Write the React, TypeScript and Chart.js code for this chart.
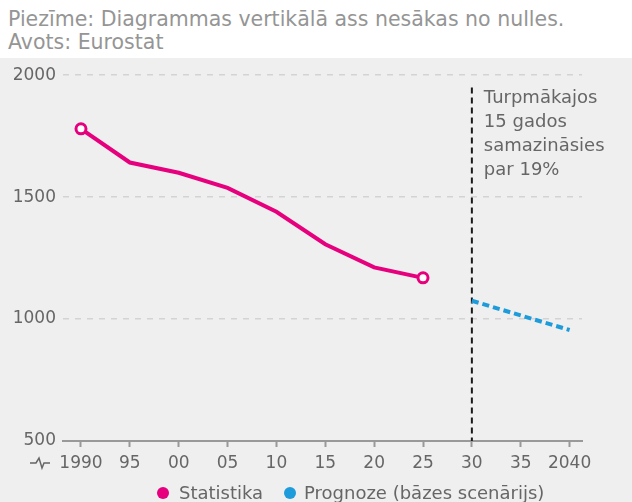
import React, { useEffect, useRef } from 'react';
import { Chart, registerables } from 'chart.js';

Chart.register(...registerables);

// ---- data ----
const STAT_YEARS = [1990, 1995, 2000, 2005, 2010, 2015, 2020, 2025];
const STAT_VALUES = [1780, 1642, 1600, 1538, 1440, 1307, 1212, 1169];
const PROG_YEARS = [2030, 2035, 2040];
const PROG_VALUES = [1075, 1015, 955];
const TICK_YEARS = [1990, 1995, 2000, 2005, 2010, 2015, 2020, 2025, 2030, 2035, 2040];
const TICK_LABELS = ['1990', '95', '00', '05', '10', '15', '20', '25', '30', '35', '2040'];
const Y_TICKS = [500, 1000, 1500, 2000];
const SERIES_NAMES = ['Statistika', 'Prognoze (bāzes scenārijs)'];
const NOTE_LINES = ['Piezīme: Diagrammas vertikālā ass nesākas no nulles.', 'Avots: Eurostat'];
const ANNOTATION_LINES = ['Turpmākajos', '15 gados', 'samazināsies', 'par 19%'];
const MARKER_YEAR = 2030;
const MARKER_TOP = 1950;

const X_MIN = 1988.16;
const X_MAX = 2041.27;
const Y_MIN = 500;
const Y_MAX = 2000;

const PINK = '#e6007e';
const BLUE = '#1d9bdb';
const BG = '#eeefee';
const FONT = "'DejaVu Sans', sans-serif";

export default function App() {
  const canvasRef = useRef<HTMLCanvasElement>(null);

  useEffect(() => {
    document.body.style.margin = '0';
    const canvas = canvasRef.current;
    if (!canvas) return;

    const overlay = {
      id: 'overlay',
      beforeDatasetsDraw(chart: any) {
        const { ctx, scales } = chart;
        const x = scales.x.getPixelForValue(MARKER_YEAR);
        const y1 = scales.y.getPixelForValue(MARKER_TOP);
        const y2 = scales.y.getPixelForValue(Y_MIN);
        ctx.save();
        ctx.strokeStyle = '#1a1a1a';
        ctx.lineWidth = 2;
        ctx.setLineDash([6, 4]);
        ctx.beginPath();
        ctx.moveTo(x, y1);
        ctx.lineTo(x, y2);
        ctx.stroke();
        ctx.restore();
      },
      afterDraw(chart: any) {
        const { ctx, scales, chartArea } = chart;
        const x = scales.x.getPixelForValue(MARKER_YEAR) + 12;
        ctx.save();
        ctx.fillStyle = '#666666';
        ctx.font = `18px ${FONT}`;
        ctx.textBaseline = 'middle';
        ctx.textAlign = 'left';
        ANNOTATION_LINES.forEach((t, i) => {
          ctx.fillText(t, x, chartArea.top + 23 + i * 24);
        });
        // axis break symbol
        const by = chartArea.bottom + 22;
        const bx = chartArea.left - 33;
        ctx.strokeStyle = '#666666';
        ctx.lineWidth = 1.5;
        ctx.beginPath();
        ctx.moveTo(bx, by);
        ctx.lineTo(bx + 6, by);
        ctx.lineTo(bx + 9, by - 5);
        ctx.lineTo(bx + 12, by + 5);
        ctx.lineTo(bx + 14, by);
        ctx.lineTo(bx + 20, by);
        ctx.stroke();
        ctx.restore();
      },
    };

    const chart = new Chart(canvas, {
      type: 'line',
      data: {
        datasets: [
          {
            label: SERIES_NAMES[0],
            data: STAT_YEARS.map((x, i) => ({ x, y: STAT_VALUES[i] })),
            borderColor: PINK,
            backgroundColor: PINK,
            borderWidth: 4,
            tension: 0,
            pointRadius: STAT_YEARS.map((_, i) => (i === 0 || i === STAT_YEARS.length - 1 ? 5 : 0)),
            pointBorderWidth: 3,
            pointBorderColor: PINK,
            pointBackgroundColor: '#ffffff',
          },
          {
            label: SERIES_NAMES[1],
            data: PROG_YEARS.map((x, i) => ({ x, y: PROG_VALUES[i] })),
            borderColor: BLUE,
            backgroundColor: BLUE,
            borderWidth: 4,
            borderDash: [7, 4],
            tension: 0,
            pointRadius: 0,
          },
        ],
      },
      options: {
        animation: false,
        responsive: false,
        devicePixelRatio: 1,
        layout: { padding: { top: 17, right: 50, left: 0, bottom: 0 } },
        plugins: {
          legend: { display: false },
          tooltip: { enabled: false },
        },
        scales: {
          x: {
            type: 'linear',
            min: X_MIN,
            max: X_MAX,
            afterBuildTicks: (scale: any) => {
              scale.ticks = TICK_YEARS.map((value) => ({ value }));
            },
            afterFit: (scale: any) => {
              scale.height = 61;
            },
            ticks: {
              color: '#666666',
              font: { family: FONT, size: 17 },
              padding: 6,
              maxRotation: 0,
              autoSkip: false,
              callback: (_v: any, i: number) => TICK_LABELS[i],
            },
            grid: {
              drawOnChartArea: false,
              drawTicks: true,
              tickLength: 6,
              tickColor: '#999999',
              tickWidth: 2,
              color: '#999999',
            },
            border: { display: true, color: '#999999', width: 2 },
          },
          y: {
            min: Y_MIN,
            max: Y_MAX,
            afterBuildTicks: (scale: any) => {
              scale.ticks = Y_TICKS.map((value) => ({ value }));
            },
            afterFit: (scale: any) => {
              scale.width = 63;
            },
            ticks: {
              color: '#666666',
              font: { family: FONT, size: 17 },
              padding: 7,
              callback: (v: any) => String(v),
            },
            grid: {
              color: '#d3d3d3',
              lineWidth: 1.5,
              drawTicks: false,
              tickLength: 0,
            },
            border: { display: false, dash: [6, 6] },
          },
        },
      },
      plugins: [overlay],
    } as any);

    return () => chart.destroy();
  }, []);

  return (
    <div style={{ width: 632, height: 502, position: 'relative', background: '#ffffff', overflow: 'hidden' }}>
      <div
        style={{
          height: 58,
          boxSizing: 'border-box',
          padding: '8px 0 0 8px',
          fontFamily: FONT,
          fontSize: 20.5,
          lineHeight: '23px',
          color: '#959595',
          whiteSpace: 'nowrap',
        }}
      >
        {NOTE_LINES.map((t) => (
          <div key={t}>{t}</div>
        ))}
      </div>
      <div style={{ position: 'absolute', top: 58, left: 0, width: 632, height: 444, background: BG }}>
        <canvas ref={canvasRef} width={632} height={444} style={{ display: 'block', width: 632, height: 444 }} />
        <div
          style={{
            position: 'absolute',
            top: 426,
            left: 0,
            height: 18,
            width: 632,
            fontFamily: FONT,
            fontSize: 18,
            lineHeight: '18px',
            color: '#666666',
          }}
        >
          <div style={{ position: 'absolute', left: 157, top: 0, display: 'flex', alignItems: 'center', whiteSpace: 'nowrap' }}>
            <span style={{ width: 12, height: 12, borderRadius: 6, background: PINK, display: 'inline-block', marginRight: 10 }} />
            <span>{SERIES_NAMES[0]}</span>
          </div>
          <div style={{ position: 'absolute', left: 284, top: 0, display: 'flex', alignItems: 'center', whiteSpace: 'nowrap' }}>
            <span style={{ width: 12, height: 12, borderRadius: 6, background: BLUE, display: 'inline-block', marginRight: 8 }} />
            <span>{SERIES_NAMES[1]}</span>
          </div>
        </div>
      </div>
    </div>
  );
}
